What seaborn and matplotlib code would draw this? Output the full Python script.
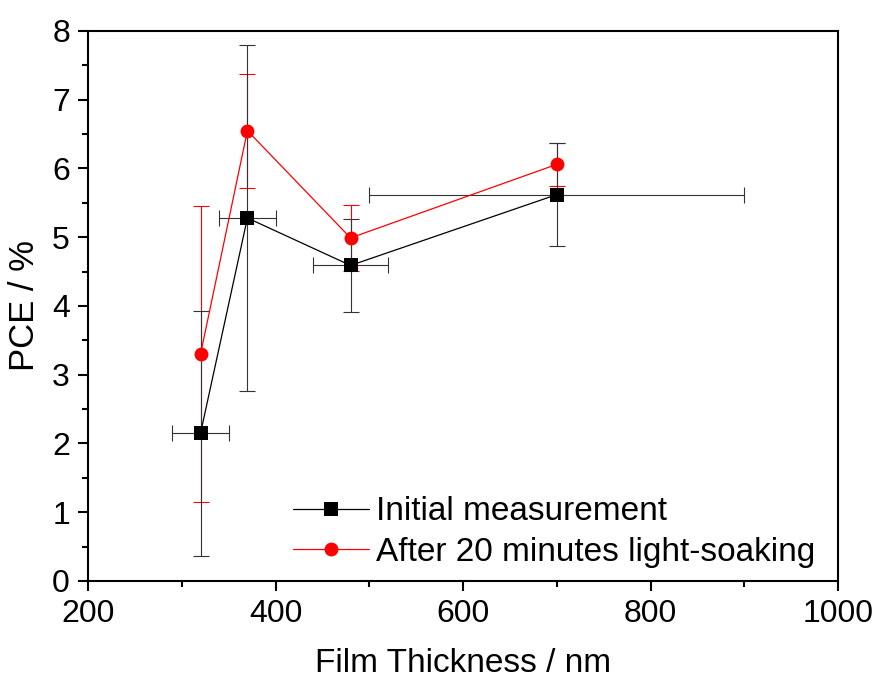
import matplotlib
matplotlib.use("Agg")
import matplotlib.pyplot as plt
import seaborn as sns
import pandas as pd
from matplotlib.ticker import MultipleLocator

thickness = [320, 370, 480, 700]
thickness_err = [30, 30, 40, 200]
pce_initial = [2.15, 5.28, 4.59, 5.62]
pce_initial_err = [1.78, 2.52, 0.68, 0.75]
pce_soaked = [3.30, 6.55, 4.99, 6.06]
pce_soaked_err = [2.15, 0.83, 0.48, 0.31]
labels = ["Initial measurement", "After 20 minutes light-soaking"]

sns.set_style("ticks")
plt.rcParams['font.family'] = ['Liberation Sans', 'DejaVu Sans']
plt.rcParams['text.color'] = 'black'

df = pd.DataFrame({
    "x": thickness * 2,
    "y": pce_initial + pce_soaked,
    "series": [labels[0]] * 4 + [labels[1]] * 4,
})

fig = plt.figure(figsize=(8.83, 6.87), dpi=100)
ax = fig.add_axes([0.0997, 0.1543, 0.8494, 0.8006])

# error bars
ax.errorbar(thickness, pce_soaked, yerr=pce_soaked_err, fmt='none',
            ecolor='red', elinewidth=0.8, capsize=6, capthick=0.8, zorder=2)
ax.errorbar(thickness, pce_initial, yerr=pce_initial_err, xerr=thickness_err,
            fmt='none', ecolor='#333333', elinewidth=0.8, capsize=6,
            capthick=0.8, zorder=3)

sns.lineplot(data=df, x="x", y="y", hue="series", style="series",
             palette={labels[0]: "black", labels[1]: "red"},
             markers={labels[0]: "s", labels[1]: "o"}, dashes=False,
             sort=False, linewidth=0.9, markersize=10, markeredgewidth=0,
             ax=ax, zorder=4)

ax.set_xlim(200, 1000)
ax.set_ylim(0, 8)
ax.xaxis.set_major_locator(MultipleLocator(200))
ax.xaxis.set_minor_locator(MultipleLocator(100))
ax.yaxis.set_major_locator(MultipleLocator(1))
ax.yaxis.set_minor_locator(MultipleLocator(0.5))
ax.tick_params(which='major', direction='out', length=7, width=1.5,
               labelsize=23, pad=6, top=False, right=False, colors='black')
ax.tick_params(which='minor', direction='out', length=4, width=1.5,
               top=False, right=False, colors='black')
for s in ax.spines.values():
    s.set_visible(True)
    s.set_linewidth(1.5)
    s.set_color('black')

ax.set_xlabel("Film Thickness / nm", fontsize=24, labelpad=14, color='black')
ax.set_ylabel("PCE / %", fontsize=25, labelpad=8, color='black')

leg = ax.legend(loc='lower left', bbox_to_anchor=(0.255, 0.0), frameon=False,
                fontsize=24, handlelength=2.3, handletextpad=0.2,
                labelspacing=0.28, borderaxespad=0)
for t in leg.get_texts():
    t.set_color('black')

fig.savefig("out.png", dpi=100)
